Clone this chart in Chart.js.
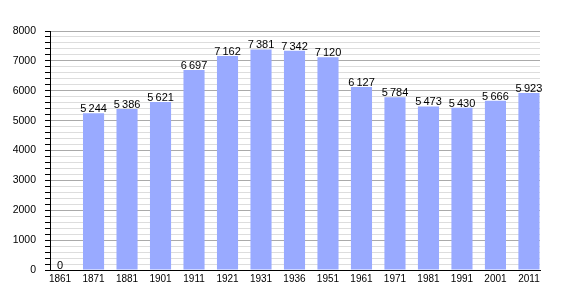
<!DOCTYPE html>
<html><head><meta charset="utf-8">
<script src="https://cdn.jsdelivr.net/npm/chart.js@4/dist/chart.umd.min.js"></script>
<style>html,body{margin:0;padding:0;background:#fff}#w{width:570px;height:300px}</style>
</head><body><div id="w"><canvas id="c"></canvas></div>
<script>
const years = ['1861','1871','1881','1901','1911','1921','1931','1936','1951','1961','1971','1981','1991','2001','2011'];
const population = [0,5244,5386,5621,6697,7162,7381,7342,7120,6127,5784,5473,5430,5666,5923];
const yMax = 8000, yStep = 200, yLabelStep = 1000;

const fmt = v => String(v).replace(/\B(?=(\d{3})+(?!\d))/g, '\u2009');

const labelPlugin = {
  id: 'vals',
  afterDatasetsDraw(chart) {
    const ctx = chart.ctx;
    const meta = chart.getDatasetMeta(0);
    ctx.save();
    ctx.font = '11px "Liberation Sans", Arial, sans-serif';
    ctx.fillStyle = '#000';
    ctx.textAlign = 'center';
    ctx.textBaseline = 'alphabetic';
    meta.data.forEach((bar, i) => {
      ctx.fillText(fmt(population[i]), bar.x, bar.y - 1);
    });
    ctx.restore();
  }
};

new Chart(document.getElementById('c'), {
  type: 'bar',
  data: {
    datasets: [{
      data: population.map((v, i) => ({x: i, y: v})),
      backgroundColor: '#99aaff',
      borderWidth: 0,
      barPercentage: 0.63,
      categoryPercentage: 1
    }]
  },
  options: {
    responsive: true, maintainAspectRatio: false, animation: false,
    layout: {padding: {top: 31, right: 30, left: 0, bottom: 0}},
    plugins: {legend: {display: false}, tooltip: {enabled: false}},
    scales: {
      x: {
        type: 'linear', min: -0.3, max: 14.33, offset: false,
        grid: {display: false, drawTicks: false, offset: false},
        border: {display: true, color: '#000', width: 1},
        ticks: {stepSize: 1, includeBounds: false, autoSkip: false, maxRotation: 0, padding: 3,
          color: '#000', font: {size: 10, family: '"Liberation Sans", Arial, sans-serif'},
          callback: v => (Number.isInteger(v) && years[v] !== undefined) ? years[v] : null},
        afterFit: s => { s.height = 30; }
      },
      y: {
        min: 0, max: yMax,
        grid: {
          color: c => (c.tick && c.tick.value % yLabelStep === 0) ? '#aaaaaa' : '#dddddd',
          tickColor: '#000', tickLength: 5, lineWidth: 1
        },
        border: {display: true, color: '#000', width: 1},
        ticks: {stepSize: yStep, autoSkip: false, padding: 9, color: '#000',
          font: {size: 10.5, family: '"Liberation Sans", Arial, sans-serif'},
          callback: v => v % yLabelStep === 0 ? String(v) : ''},
        afterFit: s => { s.width = 50; }
      }
    }
  },
  plugins: [labelPlugin]
});
</script></body></html>
